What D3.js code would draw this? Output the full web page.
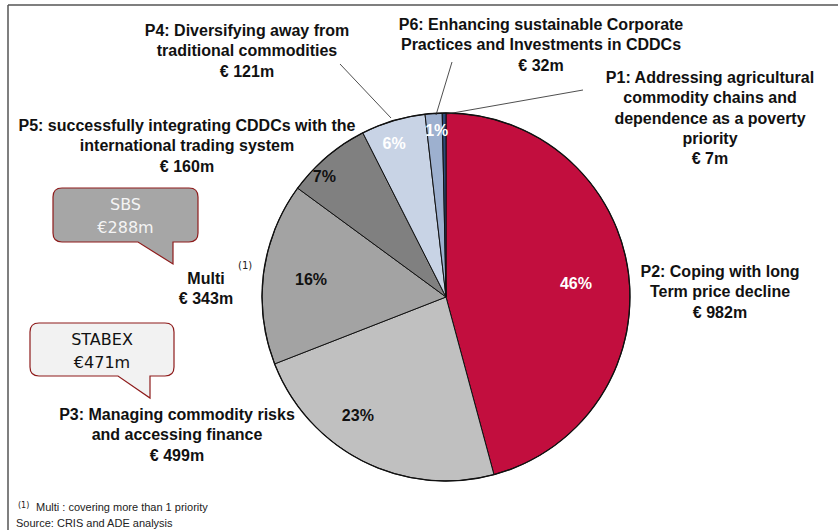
<!DOCTYPE html>
<html>
<head>
<meta charset="utf-8">
<script src="https://cdn.jsdelivr.net/npm/d3@7"></script>
<style>
  html, body { margin: 0; padding: 0; background: #ffffff; }
  svg { display: block; }
</style>
</head>
<body>
<svg id="chart" width="838" height="530"></svg>
<script>
// ---- data (clockwise from 12 o'clock) ----
const categories = ["P2", "P3", "Multi", "P5", "P4", "P6", "P1"];
const values = [982, 499, 343, 160, 121, 32, 7];
const labelLines = [
  ["P2: Coping with long", "Term price decline", "€ 982m"],
  ["P3: Managing commodity risks", "and accessing finance", "€ 499m"],
  ["Multi", "€ 343m"],
  ["P5: successfully integrating CDDCs with the", "international trading system", "€ 160m"],
  ["P4: Diversifying away from", "traditional commodities", "€ 121m"],
  ["P6: Enhancing sustainable Corporate", "Practices and Investments in CDDCs", "€ 32m"],
  ["P1: Addressing agricultural", "commodity chains and", "dependence as a poverty", "priority", "€ 7m"]
];
const calloutNames = ["SBS", "STABEX"];
const calloutValues = ["€288m", "€471m"];
const footnotes = ["Multi : covering more than 1 priority", "Source: CRIS and ADE analysis"];

// ---- styles / layout (kept separate from data) ----
const colors = ["#C20E3E", "#C0C0C0", "#A3A3A3", "#808080", "#C8D3E5", "#9DB0CF", "#2E4A7A"];
const pctColors = ["#ffffff", "#111111", "#111111", "#111111", "#ffffff", "#ffffff", "#ffffff"];
const pctRadiusF = [0.71, 0.80, 0.74, 0.93, 0.88, 0.91, 0];
const pctAngleNudge = [1.5, 10, 0, -5, -2, 0.7, 0]; // degrees
const labelPos = [
  {x: 720, y: 277}, {x: 177, y: 420}, {x: 206, y: 284}, {x: 187, y: 131},
  {x: 247, y: 36}, {x: 541, y: 30}, {x: 710, y: 83}
];
const lineH = 20.3;
const leaders = [null, null, null, null,
  [[340, 64], [391, 118]], [[452, 62], [436, 115]], [[583, 90], [447, 114]]];

const W = 838, H = 530;
const cx = 446, cy = 297, R = 184;
const svg = d3.select("#chart");
const font = "'Liberation Sans', Arial, sans-serif";
const vfont = "'DejaVu Sans', Verdana, sans-serif";

// frame
svg.append("line").attr("x1", 8).attr("y1", 5).attr("x2", W).attr("y2", 5)
  .attr("stroke", "#555").attr("stroke-width", 1.5);
svg.append("line").attr("x1", 8).attr("y1", 5).attr("x2", 8).attr("y2", H)
  .attr("stroke", "#555").attr("stroke-width", 1.5);

// pie
const total = d3.sum(values);
const pie = d3.pie().sort(null).value(d => d)(values);
const arc = d3.arc().innerRadius(0).outerRadius(R);
const g = svg.append("g").attr("transform", `translate(${cx},${cy})`);
g.selectAll("path.slice").data(pie).join("path")
  .attr("class", "slice")
  .attr("d", arc)
  .attr("fill", (d, i) => colors[i])
  .attr("stroke", "#111").attr("stroke-width", 1).attr("stroke-linejoin", "round");
g.append("circle").attr("r", R).attr("fill", "none").attr("stroke", "#111").attr("stroke-width", 1.3);

// percentage labels
g.selectAll("text.pct").data(pie).join("text")
  .attr("class", "pct")
  .each(function(d, i) {
    const pct = Math.round(d.value / total * 100);
    if (pct < 1) return;
    const a = (d.startAngle + d.endAngle) / 2 + pctAngleNudge[i] * Math.PI / 180;
    const r = pctRadiusF[i] * R;
    d3.select(this)
      .attr("x", r * Math.sin(a))
      .attr("y", -r * Math.cos(a))
      .attr("dy", "0.36em")
      .attr("text-anchor", "middle")
      .attr("font-family", font).attr("font-weight", "bold").attr("font-size", 16)
      .attr("fill", pctColors[i])
      .text(pct + "%");
  });

// leader lines
leaders.forEach(l => {
  if (!l) return;
  svg.append("line").attr("x1", l[0][0]).attr("y1", l[0][1])
    .attr("x2", l[1][0]).attr("y2", l[1][1])
    .attr("stroke", "#222").attr("stroke-width", 0.8);
});

// category labels
labelLines.forEach((lines, i) => {
  const t = svg.append("text")
    .attr("text-anchor", "middle")
    .attr("font-family", font).attr("font-weight", "bold").attr("font-size", 16)
    .attr("fill", "#111");
  lines.forEach((s, k) => {
    t.append("tspan").attr("x", labelPos[i].x).attr("y", labelPos[i].y + k * lineH).text(s);
  });
});
// superscript (1) next to Multi
svg.append("text").attr("x", 238).attr("y", 269)
  .attr("font-family", vfont).attr("font-size", 10).attr("fill", "#222").text("(1)");

// callouts
function callout(x0, y0, x1, y1, r, tailA, tipX, tipY, tailB) {
  return `M${x0 + r},${y0} H${x1 - r} Q${x1},${y0} ${x1},${y0 + r} V${y1 - r} Q${x1},${y1} ${x1 - r},${y1}` +
    ` H${tailB} L${tipX},${tipY} L${tailA},${y1} H${x0 + r} Q${x0},${y1} ${x0},${y1 - r} V${y0 + r} Q${x0},${y0} ${x0 + r},${y0} Z`;
}
const callouts = [
  {box: [53, 188, 198, 242], tail: [138, 173, 264, 173], fill: "#A6A6A6", txt: "#F4F4F4"},
  {box: [30, 323, 174, 376], tail: [118, 150, 398, 150], fill: "#F2F2F2", txt: "#111"}
];
callouts.forEach((c, i) => {
  const [x0, y0, x1, y1] = c.box;
  svg.append("path")
    .attr("d", callout(x0, y0, x1, y1, 9, c.tail[0], c.tail[1], c.tail[2], c.tail[3]))
    .attr("fill", c.fill).attr("stroke", "#8E1B1B").attr("stroke-width", 1.2);
  const mx = (x0 + x1) / 2;
  svg.append("text").attr("x", mx).attr("y", y0 + 22).attr("text-anchor", "middle")
    .attr("font-family", vfont).attr("font-size", 16).attr("fill", c.txt).text(calloutNames[i]);
  svg.append("text").attr("x", mx).attr("y", y0 + 45).attr("text-anchor", "middle")
    .attr("font-family", vfont).attr("font-size", 16).attr("fill", c.txt).text(calloutValues[i]);
});

// footnotes
svg.append("text").attr("x", 18).attr("y", 508)
  .attr("font-family", vfont).attr("font-size", 8).attr("fill", "#222").text("(1)");
svg.append("text").attr("x", 36).attr("y", 511)
  .attr("font-family", font).attr("font-size", 11).attr("fill", "#222").text(footnotes[0]);
svg.append("text").attr("x", 16).attr("y", 527)
  .attr("font-family", font).attr("font-size", 11).attr("fill", "#222").text(footnotes[1]);
</script>
</body>
</html>
